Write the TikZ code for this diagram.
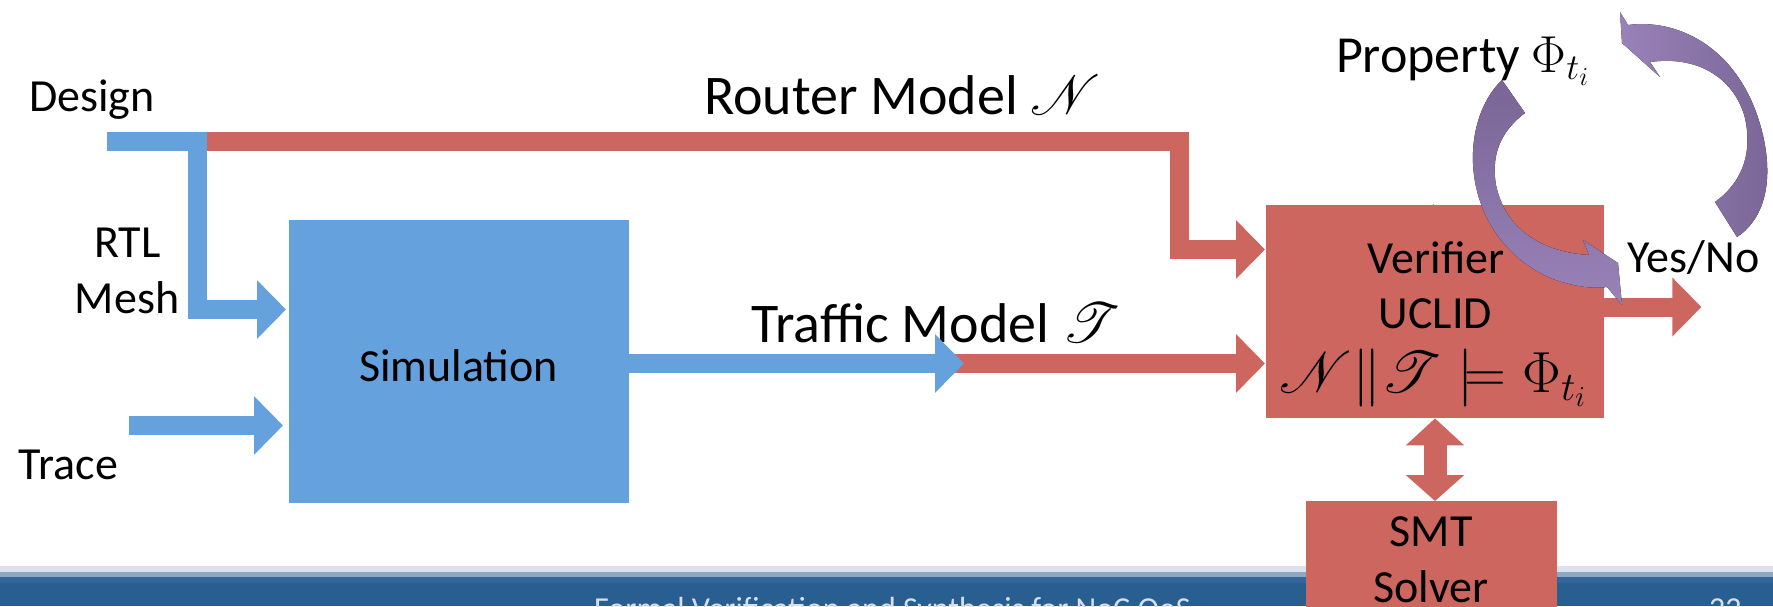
\RequirePackage{fix-cm}
\documentclass[tikz,border=0pt]{standalone}
\usepackage{mathrsfs}
\usepackage[no-math]{fontspec}
\setmainfont{Carlito}
\usetikzlibrary{arrows.meta}
% let the script letters scale freely
\DeclareFontFamily{U}{rsfs}{\skewchar\font127 }
\DeclareFontShape{U}{rsfs}{m}{n}{<-6> rsfs5 <6-8> rsfs7 <8-> rsfs10}{}

\definecolor{simblue}{RGB}{101,161,220}
\definecolor{verred}{RGB}{205,102,95}
\definecolor{loopdark}{RGB}{122,101,150}
\definecolor{looplight}{RGB}{152,130,184}
\definecolor{barlight}{RGB}{220,226,235}
\definecolor{barmid}{RGB}{143,168,193}
\definecolor{bartop}{RGB}{51,103,155}
\definecolor{bardark}{RGB}{41,94,144}
\definecolor{foottext}{RGB}{214,223,235}

\tikzset{
  flow/.style={line width=19pt, line cap=butt, line join=miter,
               -{Triangle[width=57pt,length=29pt]}},
  blueflow/.style={flow, draw=simblue},
  redflow/.style={flow, draw=verred},
  blockbox/.style={rectangle, inner sep=0pt, anchor=north west},
  lbl/.style={inner sep=0pt, anchor=base, font=\fontsize{46}{56}\selectfont},
  biglbl/.style={inner sep=0pt, anchor=base, font=\fontsize{56}{64}\selectfont},
}

\begin{document}
\begin{tikzpicture}[x=1pt, y=-1pt]
\useasboundingbox (0,0) rectangle (1773,606);

% footer bar
\fill[barlight] (0,566) rectangle (1773,572);
\fill[barmid]   (0,572) rectangle (1773,577);
\fill[bartop]   (0,577) rectangle (1773,583);
\fill[bardark]  (0,583) rectangle (1773,606);
\begin{scope}
  \clip (0,0) rectangle (1773,606);
  \node[inner sep=0pt, anchor=base west, text=foottext,
        font=\fontsize{32}{38}\selectfont] (foot) at (594,619)
        {Formal Verification and Synthesis for NoC QoS};
  \node[inner sep=0pt, anchor=base west, text=foottext,
        font=\fontsize{32}{38}\selectfont] (page) at (1709,619) {22};
\end{scope}

% blocks
\node[blockbox, fill=simblue, minimum width=340pt, minimum height=283pt] (sim) at (289,220) {};
\node[blockbox, fill=verred, minimum width=338pt, minimum height=213pt] (ver) at (1266,205) {};
\node[blockbox, fill=verred, minimum width=251pt, minimum height=130pt] (smt) at (1306,501) {};

% block texts
\node[lbl] (simtxt) at (458.5,381) {Simulation};
\node[lbl] (vertxt) at (1436,273) {Verifier};
\node[lbl] (uclid) at (1435.5,328) {UCLID};
\node[inner sep=0pt, anchor=base, font=\fontsize{58}{64}\selectfont] (formula) at (1433,392)
  {$\mathscr{N}\|\mathscr{T}\models\Phi_{t_i}$};
\node[lbl] (smttxt) at (1431,546) {SMT};
\node[lbl] (solver) at (1431,602) {Solver};

% free labels
\node[lbl] (design) at (92,111) {Design};
\node[lbl] (rtl) at (127.5,257) {RTL};
\node[lbl] (mesh) at (127,313) {Mesh};
\node[lbl] (trace) at (68.5,479) {Trace};
\node[biglbl] (router) at (902.5,114) {Router Model $\mathscr{N}$};
\node[biglbl] (traffic) at (936,342) {Traffic Model $\mathscr{T}$};
\node[inner sep=0pt, anchor=base, font=\fontsize{52}{60}\selectfont] (prop) at (1462.5,72)
  {Property $\Phi_{t_i}$};
\node[lbl] (yesno) at (1693.5,272) {Yes/No};

% connector end points
\coordinate (designin) at (107,141);
\coordinate (split) at (197,141);
\coordinate (routerstart) at (207,141);
\coordinate (routerbend) at (1179.5,141);
\coordinate (tracein) at (129,425.5);
\coordinate (modelsplit) at (953,363.5);
\coordinate (bluetip) at (964,363.5);

% router model: design feed to verifier
\draw[redflow]
  (routerstart) -- (routerbend) -- (routerbend |- 0,249.5) -- ([xshift=-1pt]ver.west |- 0,249.5);
% design feed: RTL mesh into simulation
\draw[blueflow] (designin) -- (split) -- (split |- 0,309.5) -- ([xshift=-3pt]sim.west |- 0,309.5);
% trace into simulation
\draw[blueflow] (tracein) -- ([xshift=-6pt]sim.west |- tracein);
% traffic model: simulation to verifier
\draw[redflow] (modelsplit) -- ([xshift=-1pt]ver.west |- modelsplit);
\draw[blueflow] (sim.east |- bluetip) -- (bluetip);
% property into verifier
\draw[redflow, line width=21pt] (ver.north -| 1433.5,90) -- ([yshift=1pt]ver.north -| 1433.5,0);
% result out of verifier
\draw[redflow] (ver.east |- 0,307) -- ([xshift=97pt]ver.east |- 0,307);
% verifier <-> SMT solver
\draw[line width=23pt, line cap=butt, draw=verred,
      {Triangle[width=57pt,length=27pt]}-{Triangle[width=57pt,length=26pt]}]
  (ver.south -| 1435,0) -- (smt.north -| 1435,0);

% refinement loop
\fill[top color=loopdark, bottom color=looplight]
  (1502,80) .. controls (1455,125) and (1460,240) .. (1553,279)
  .. controls (1575,287) and (1595,289) .. (1607,287)
  -- (1622,305) -- (1618,263) -- (1583,240) -- (1589,255)
  .. controls (1540,252) and (1505,228) .. (1496,185)
  .. controls (1490,150) and (1505,128) .. (1525,113) -- cycle;
\fill[left color=looplight, right color=loopdark]
  (1620,12) -- (1628,25)
  .. controls (1680,18) and (1745,50) .. (1764,140)
  .. controls (1774,190) and (1760,222) .. (1737,237)
  -- (1715,202)
  .. controls (1745,180) and (1752,150) .. (1745,118)
  .. controls (1735,80) and (1700,55) .. (1650,62)
  -- (1660,77) -- (1622,43) -- cycle;
\end{tikzpicture}
\end{document}
